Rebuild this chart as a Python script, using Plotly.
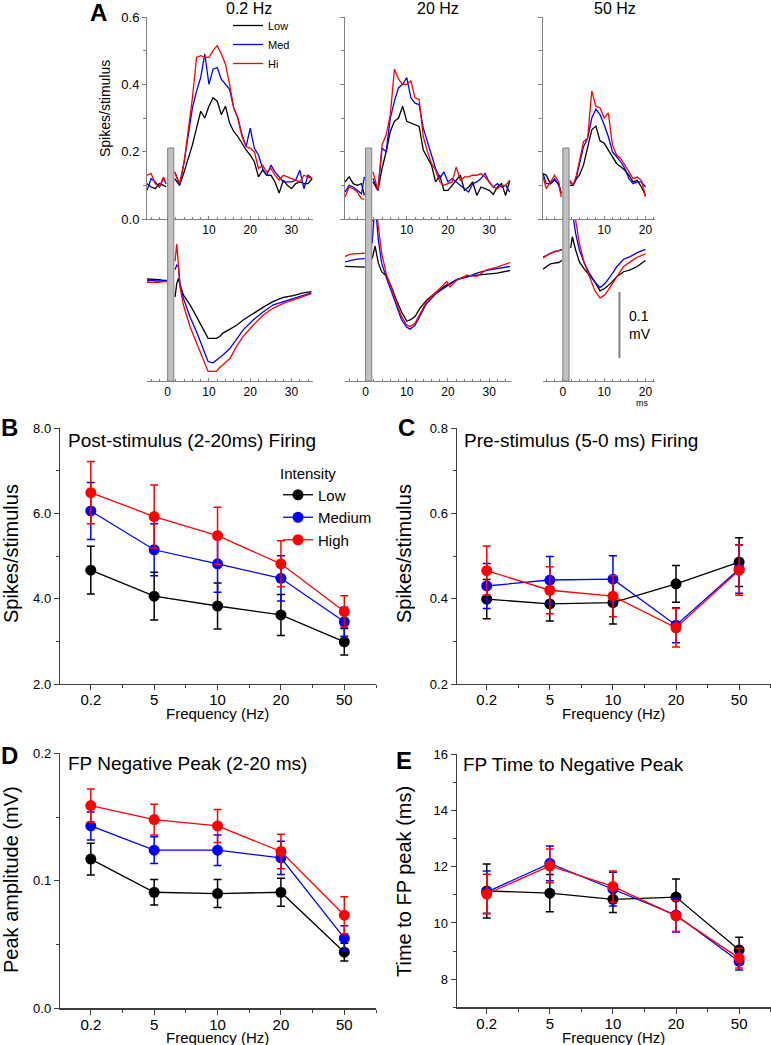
import plotly.graph_objects as go

W, H = 771, 1045


def px(x):
    return x / W


def py(y):
    return 1 - y / H


BLACK, BLUE, RED = "#000000", "#0000ff", "#ff0000"
FONT = "Liberation Sans, Arial, sans-serif"

# ---------------- Panel A: spike histograms (spikes/stimulus) ----------------
t_pre_02 = [-5, -4, -3, -2, -1, -0.4]
t_post_02 = [1.7, 2.9, 4, 5, 6, 7, 8, 9, 10, 11, 12, 13, 14, 15, 16, 17, 18, 19, 20,
             21, 22, 23, 24, 25, 26, 27, 28, 29, 30, 31, 32, 33, 34, 35]
sp02_low_pre = [0.105, 0.095, 0.09, 0.105, 0.10, 0.095]
sp02_med_pre = [0.085, 0.12, 0.11, 0.095, 0.12, 0.105]
sp02_hi_pre = [0.13, 0.135, 0.105, 0.095, 0.125, 0.105]
sp02_low_post = [0.12, 0.10, 0.14, 0.18, 0.22, 0.27, 0.32, 0.30, 0.335, 0.36, 0.35, 0.31, 0.335,
                 0.285, 0.26, 0.245, 0.225, 0.205, 0.19, 0.17, 0.125, 0.145, 0.13, 0.13, 0.11,
                 0.077, 0.115, 0.10, 0.09, 0.105, 0.11, 0.105, 0.105, 0.12]
sp02_med_post = [0.14, 0.10, 0.17, 0.25, 0.33, 0.38, 0.42, 0.49, 0.40, 0.445, 0.45, 0.415, 0.40,
                 0.385, 0.33, 0.30, 0.25, 0.215, 0.27, 0.21, 0.19, 0.15, 0.13, 0.16, 0.14,
                 0.125, 0.11, 0.11, 0.11, 0.115, 0.145, 0.09, 0.13, 0.12]
sp02_hi_post = [0.14, 0.105, 0.17, 0.26, 0.36, 0.48, 0.485, 0.48, 0.48, 0.50, 0.515, 0.49, 0.46,
                0.40, 0.33, 0.30, 0.245, 0.215, 0.21, 0.20, 0.15, 0.16, 0.14, 0.15, 0.13,
                0.115, 0.13, 0.125, 0.12, 0.115, 0.11, 0.13, 0.125, 0.12]

t_pre_20 = [-5, -4, -3, -2, -1, -0.3]
t_post_20 = [1.8, 3, 4, 5, 6, 7, 8, 9, 10, 11, 12, 13, 14, 15, 16, 17, 18, 19, 20,
             21, 22, 23, 24, 25, 26, 27, 28, 29, 30, 31, 32, 33, 34, 35]
sp20_low_pre = [0.11, 0.125, 0.105, 0.10, 0.105, 0.07]
sp20_med_pre = [0.08, 0.10, 0.095, 0.085, 0.075, 0.125]
sp20_hi_pre = [0.065, 0.095, 0.09, 0.08, 0.06, 0.058]
sp20_low_post = [0.11, 0.085, 0.15, 0.20, 0.26, 0.29, 0.30, 0.335, 0.29, 0.285, 0.28, 0.275, 0.205,
                 0.18, 0.16, 0.11, 0.13, 0.085, 0.085, 0.10, 0.115, 0.13, 0.085, 0.095, 0.11,
                 0.07, 0.095, 0.09, 0.085, 0.073, 0.095, 0.105, 0.07, 0.115]
sp20_med_post = [0.12, 0.085, 0.21, 0.20, 0.30, 0.35, 0.39, 0.40, 0.42, 0.36, 0.344, 0.34, 0.27,
                 0.23, 0.19, 0.15, 0.12, 0.14, 0.11, 0.12, 0.11, 0.10, 0.09, 0.08, 0.105,
                 0.11, 0.12, 0.135, 0.11, 0.095, 0.105, 0.095, 0.10, 0.08]
sp20_hi_post = [0.14, 0.085, 0.22, 0.25, 0.31, 0.445, 0.415, 0.40, 0.40, 0.41, 0.36, 0.355, 0.245,
                0.20, 0.165, 0.145, 0.11, 0.10, 0.105, 0.11, 0.155, 0.115, 0.125, 0.125, 0.13,
                0.13, 0.135, 0.125, 0.11, 0.095, 0.09, 0.10, 0.10, 0.115]

t_pre_50 = [-4.8, -4, -3, -2, -1, -0.4]
t_post_50 = [1.7, 2.5, 3.3, 4, 5, 6, 7, 8, 9, 10, 11, 12, 13, 14, 15, 16, 17, 18, 19, 20]
sp50_low_pre = [0.135, 0.13, 0.105, 0.115, 0.105, 0.077]
sp50_med_pre = [0.135, 0.105, 0.105, 0.12, 0.10, 0.075]
sp50_hi_pre = [0.125, 0.09, 0.11, 0.13, 0.11, 0.065]
sp50_low_post = [0.10, 0.10, 0.12, 0.13, 0.16, 0.215, 0.265, 0.276, 0.232, 0.225, 0.205, 0.185,
                 0.165, 0.155, 0.145, 0.13, 0.11, 0.115, 0.095, 0.07]
sp50_med_post = [0.11, 0.10, 0.125, 0.165, 0.215, 0.24, 0.30, 0.326, 0.31, 0.28, 0.245, 0.20,
                 0.185, 0.17, 0.15, 0.12, 0.105, 0.11, 0.11, 0.095]
sp50_hi_post = [0.115, 0.10, 0.13, 0.17, 0.23, 0.24, 0.38, 0.335, 0.33, 0.30, 0.315, 0.22,
                0.19, 0.18, 0.16, 0.14, 0.12, 0.125, 0.115, 0.066]

# ---------------- Panel A: field potentials (mV) ----------------
t_fp_pre = [-5, -4, -3, -2, -1, -0.2]
t_fp_pre_50 = [-4.8, -4, -3, -2, -1, -0.2]

t_fp_post_02 = [1.8, 2.2, 2.6, 3.0, 3.8, 5.4, 7.0, 8.6, 9.8, 11.0, 11.8, 12.6, 13.4, 15.1,
                16.7, 18.3, 20.7, 23.1, 25.6, 28.0, 30.4, 32.8, 34.8]
fp02_low_pre = [0.003, 0.003, 0.002, 0.002, 0.001, 0.001]
fp02_med_pre = [0.0, 0.001, 0.0, 0.0, 0.0, 0.0]
fp02_hi_pre = [-0.002, -0.002, -0.003, -0.002, -0.001, -0.001]
fp02_low_post = [-0.024, -0.004, 0.004, -0.006, -0.021, -0.036, -0.054, -0.074, -0.087, -0.087,
                 -0.087, -0.084, -0.079, -0.073, -0.067, -0.059, -0.049, -0.040, -0.031,
                 -0.025, -0.022, -0.018, -0.016]
fp02_med_post = [0.017, 0.024, 0.022, -0.004, -0.026, -0.054, -0.077, -0.102, -0.122, -0.124,
                 -0.120, -0.115, -0.112, -0.102, -0.087, -0.074, -0.059, -0.047, -0.036,
                 -0.031, -0.026, -0.021, -0.018]
fp02_hi_post = [0.030, 0.056, 0.025, -0.009, -0.036, -0.069, -0.094, -0.120, -0.137, -0.137,
                -0.137, -0.131, -0.127, -0.117, -0.099, -0.084, -0.067, -0.052, -0.041,
                -0.034, -0.029, -0.023, -0.019]

t_fp_post_20 = [1.6, 2.3, 3.1, 3.9, 5.1, 6.3, 7.5, 8.75, 10.0, 10.8, 12.0, 13.2, 14.8, 17.3,
                19.7, 20.5, 22.1, 24.6, 27.0, 29.4, 31.9, 35.1]
fp20_low_pre = [0.022, 0.022, 0.022, 0.022, 0.021, 0.021]
fp20_med_pre = [0.029, 0.031, 0.032, 0.033, 0.034, 0.034]
fp20_hi_pre = [0.037, 0.040, 0.041, 0.041, 0.042, 0.042]
fp20_low_post = [0.034, 0.053, 0.027, 0.014, 0.007, -0.009, -0.029, -0.047, -0.061, -0.059,
                 -0.054, -0.041, -0.029, -0.016, -0.006, -0.004, 0.002, 0.007, 0.009, 0.011,
                 0.012, 0.016]
fp20_med_post = [0.057, 0.12, 0.062, 0.027, 0.004, -0.016, -0.039, -0.059, -0.070, -0.073,
                 -0.067, -0.052, -0.034, -0.018, -0.008, -0.005, 0.002, 0.006, 0.012, 0.016,
                 0.019, 0.022]
fp20_hi_post = [0.09, 0.13, 0.082, 0.042, 0.009, -0.011, -0.034, -0.054, -0.067, -0.069,
                -0.064, -0.049, -0.031, -0.016, -0.001, -0.009, 0.001, 0.009, 0.007, 0.017,
                0.021, 0.028]

t_fp_post_50 = [1.9, 2.3, 3.1, 4.0, 5.2, 6.4, 7.7, 9.0, 10.2, 11.5, 13.1, 14.7, 16.3, 18.0, 20.0]
fp50_low_pre = [0.018, 0.022, 0.026, 0.027, 0.028, 0.031]
fp50_med_pre = [0.036, 0.039, 0.042, 0.045, 0.046, 0.048]
fp50_hi_pre = [0.035, 0.038, 0.042, 0.044, 0.046, 0.047]
fp50_low_post = [0.050, 0.067, 0.047, 0.029, 0.018, 0.009, -0.001, -0.015, -0.011, -0.004,
                 0.007, 0.014, 0.017, 0.022, 0.031]
fp50_med_post = [0.123, 0.103, 0.072, 0.047, 0.027, 0.012, -0.001, -0.010, -0.004, 0.007,
                 0.022, 0.033, 0.037, 0.043, 0.048]
fp50_hi_post = [0.133, 0.133, 0.092, 0.057, 0.027, 0.007, -0.014, -0.026, -0.021, -0.009,
                0.007, 0.022, 0.029, 0.036, 0.041]

# ---------------- Panels B-E: summary data ----------------
freq_labels = ["0.2", "5", "10", "20", "50"]
intensity_names = ["Low", "Medium", "High"]

post_low = [4.67, 4.06, 3.83, 3.62, 2.99]
post_low_err = [0.56, 0.56, 0.54, 0.48, 0.31]
post_med = [6.06, 5.15, 4.82, 4.48, 3.46]
post_med_err = [0.67, 0.61, 0.67, 0.53, 0.34]
post_high = [6.49, 5.93, 5.48, 4.82, 3.70]
post_high_err = [0.73, 0.74, 0.67, 0.54, 0.37]

pre_low = [0.399, 0.388, 0.391, 0.435, 0.486]
pre_low_err = [0.046, 0.040, 0.050, 0.043, 0.057]
pre_med = [0.430, 0.444, 0.446, 0.338, 0.470]
pre_med_err = [0.053, 0.055, 0.055, 0.041, 0.057]
pre_high = [0.466, 0.420, 0.406, 0.332, 0.467]
pre_high_err = [0.058, 0.055, 0.048, 0.045, 0.059]

amp_low = [0.117, 0.091, 0.090, 0.091, 0.044]
amp_low_err = [0.0125, 0.010, 0.011, 0.011, 0.007]
amp_med = [0.143, 0.124, 0.124, 0.118, 0.055]
amp_med_err = [0.011, 0.0105, 0.012, 0.013, 0.0098]
amp_high = [0.159, 0.148, 0.143, 0.123, 0.073]
amp_high_err = [0.013, 0.012, 0.013, 0.0136, 0.0145]

time_low = [11.14, 11.06, 10.84, 10.92, 9.04]
time_low_err = [0.96, 0.66, 0.47, 0.64, 0.45]
time_med = [11.10, 12.12, 11.20, 10.28, 8.63]
time_med_err = [0.75, 0.62, 0.60, 0.60, 0.30]
time_high = [11.03, 12.03, 11.30, 10.25, 8.75]
time_high_err = [0.70, 0.60, 0.55, 0.55, 0.35]

# ====================================================================
fig = go.Figure()


def join(pre, post):
    return list(pre) + [None] + list(post)


spike_panels = [
    ("x", "y", t_pre_02, t_post_02,
     [(sp02_low_pre, sp02_low_post), (sp02_med_pre, sp02_med_post), (sp02_hi_pre, sp02_hi_post)]),
    ("x2", "y2", t_pre_20, t_post_20,
     [(sp20_low_pre, sp20_low_post), (sp20_med_pre, sp20_med_post), (sp20_hi_pre, sp20_hi_post)]),
    ("x3", "y3", t_pre_50, t_post_50,
     [(sp50_low_pre, sp50_low_post), (sp50_med_pre, sp50_med_post), (sp50_hi_pre, sp50_hi_post)]),
]
fp_panels = [
    ("x4", "y4", t_fp_pre, t_fp_post_02,
     [(fp02_low_pre, fp02_low_post), (fp02_med_pre, fp02_med_post), (fp02_hi_pre, fp02_hi_post)]),
    ("x5", "y5", t_fp_pre, t_fp_post_20,
     [(fp20_low_pre, fp20_low_post), (fp20_med_pre, fp20_med_post), (fp20_hi_pre, fp20_hi_post)]),
    ("x6", "y6", t_fp_pre_50, t_fp_post_50,
     [(fp50_low_pre, fp50_low_post), (fp50_med_pre, fp50_med_post), (fp50_hi_pre, fp50_hi_post)]),
]
short_names = ["Low", "Med", "Hi"]
colors = [BLACK, BLUE, RED]

for pi, (xa, ya, tpre, tpost, series) in enumerate(spike_panels + fp_panels):
    for si, (pre, post) in enumerate(series):
        fig.add_trace(go.Scatter(
            x=join(tpre, tpost), y=join(pre, post), mode="lines",
            line=dict(color=colors[si], width=1.3),
            xaxis=xa, yaxis=ya, name=short_names[si],
            showlegend=(pi == 0), legend="legend2", hoverinfo="skip"))

summary = [
    ("x7", "y7", [(post_low, post_low_err), (post_med, post_med_err), (post_high, post_high_err)]),
    ("x8", "y8", [(pre_low, pre_low_err), (pre_med, pre_med_err), (pre_high, pre_high_err)]),
    ("x9", "y9", [(amp_low, amp_low_err), (amp_med, amp_med_err), (amp_high, amp_high_err)]),
    ("x10", "y10", [(time_low, time_low_err), (time_med, time_med_err), (time_high, time_high_err)]),
]
xidx = list(range(len(freq_labels)))
for pi, (xa, ya, series) in enumerate(summary):
    for si, (vals, errs) in enumerate(series):
        fig.add_trace(go.Scatter(
            x=xidx, y=vals, mode="lines+markers",
            line=dict(color=colors[si], width=1.3),
            marker=dict(color=colors[si], size=11),
            error_y=dict(type="data", array=errs, visible=True, color=colors[si],
                         thickness=1.5, width=4),
            xaxis=xa, yaxis=ya, name=intensity_names[si],
            showlegend=(pi == 0), legend="legend"))

# ---------------- axes ----------------
A_LINE = "#808080"
B_LINE = "#404040"
spike_dom_y = [py(219), py(17)]
fp_dom_y = [py(381), py(220)]
x_doms = [[px(147), px(313)], [px(345), px(511)], [px(543), px(655)]]
x_ranges = [[-5.0, 35.2], [-5.0, 35.3], [-4.8, 22.3]]
top_ticks = [[10, 20, 30], [10, 20, 30], [10, 20]]
bot_ticks = [[0, 10, 20, 30], [0, 10, 20, 30], [0, 10, 20]]

layout = dict(
    width=W, height=H, autosize=False,
    margin=dict(l=0, r=0, t=0, b=0, pad=0, autoexpand=False),
    paper_bgcolor="white", plot_bgcolor="rgba(0,0,0,0)",
    font=dict(family=FONT, color="black"),
    hovermode=False,
)

for i in range(3):
    n = i + 1
    xs = "" if n == 1 else str(n)
    layout["xaxis" + xs] = dict(
        domain=x_doms[i], range=x_ranges[i], anchor="y" + xs,
        showline=True, linecolor=A_LINE, linewidth=1, showgrid=False, zeroline=False,
        tickmode="array", tickvals=top_ticks[i], ticks="inside", ticklen=3,
        tickcolor=A_LINE, tickfont=dict(size=12), automargin=False,
        minor=dict(dtick=2, tick0=0, ticks="inside", ticklen=2, tickcolor=A_LINE))
    layout["yaxis" + xs] = dict(
        domain=spike_dom_y, range=[0, 0.6], anchor="x" + xs,
        showline=True, linecolor=A_LINE, linewidth=1, showgrid=False, zeroline=False,
        tickmode="array", tickvals=[0, 0.2, 0.4, 0.6], tickformat=".1f",
        showticklabels=(i == 0), ticks="outside", ticklen=4, tickcolor=A_LINE,
        tickfont=dict(size=13), automargin=False,
        minor=dict(dtick=0.1, tick0=0, ticks="outside", ticklen=3, tickcolor=A_LINE))
    m = n + 3
    layout["xaxis%d" % m] = dict(
        domain=x_doms[i], range=x_ranges[i], anchor="y%d" % m,
        showline=True, linecolor=A_LINE, linewidth=1, showgrid=False, zeroline=False,
        tickmode="array", tickvals=bot_ticks[i], ticks="inside", ticklen=3,
        tickcolor=A_LINE, tickfont=dict(size=12), automargin=False,
        minor=dict(dtick=2, tick0=0, ticks="inside", ticklen=2, tickcolor=A_LINE))
    layout["yaxis%d" % m] = dict(
        domain=fp_dom_y, range=[-0.1515, 0.0924], anchor="x%d" % m, visible=False)

left_dom = [px(60), px(376)]
right_dom = [px(456.7), 1.0]
rows = [
    (7, left_dom, [-0.486, 4.5], [py(684), py(428.3)], [2, 8], [2, 4, 6, 8], ".1f", 1),
    (8, right_dom, [-0.476, 4.505], [py(684), py(428.3)], [0.2, 0.8], [0.2, 0.4, 0.6, 0.8], ".1f", 0.1),
    (9, left_dom, [-0.486, 4.5], [py(1008.3), py(753.3)], [0, 0.2], [0, 0.1, 0.2], ".1f", 0.05),
    (10, right_dom, [-0.476, 4.505], [py(1007.3), py(754.3)], [7, 16], [8, 10, 12, 14, 16], "d", 1),
]
for (k, xd, xr, yd, yr, yt, yfmt, ymin) in rows:
    layout["xaxis%d" % k] = dict(
        domain=xd, range=xr, anchor="y%d" % k,
        showline=True, linecolor=B_LINE, linewidth=1.2, showgrid=False, zeroline=False,
        tickmode="array", tickvals=xidx, ticktext=freq_labels,
        ticks="outside", ticklen=5, tickcolor=B_LINE, tickfont=dict(size=15),
        ticklabelstandoff=-3, automargin=False,
        minor=dict(dtick=0.5, tick0=0, ticks="outside", ticklen=3, tickcolor=B_LINE))
    layout["yaxis%d" % k] = dict(
        domain=yd, range=yr, anchor="x%d" % k,
        showline=True, linecolor=B_LINE, linewidth=1.2, showgrid=False, zeroline=False,
        tickmode="array", tickvals=yt, tickformat=yfmt,
        ticks="outside", ticklen=5, tickcolor=B_LINE, tickfont=dict(size=13),
        automargin=False,
        minor=dict(dtick=ymin, tick0=0, ticks="outside", ticklen=3, tickcolor=B_LINE))

layout["legend"] = dict(
    x=px(278), y=py(459), xanchor="left", yanchor="top",
    title=dict(text="Intensity", font=dict(size=15)),
    font=dict(size=15), bgcolor="rgba(0,0,0,0)", tracegroupgap=0, itemwidth=30)
layout["legend2"] = dict(
    x=px(228), y=py(11), xanchor="left", yanchor="top",
    font=dict(size=11), bgcolor="rgba(0,0,0,0)", tracegroupgap=0, itemwidth=30)

fig.update_layout(**layout)

# ---------------- shapes: stimulus bars and scale bar ----------------
shapes = []
for xa in ["x", "x2", "x3"]:
    shapes.append(dict(type="rect", xref=xa, yref="paper", x0=0, x1=1.5,
                       y0=py(381), y1=py(148), fillcolor="#c0c0c0",
                       line=dict(color="#808080", width=1), layer="above"))
shapes.append(dict(type="line", xref="x6", yref="y6", x0=13.7, x1=13.7,
                   y0=-0.0167, y1=-0.1167, line=dict(color="#808080", width=2)))
fig.update_layout(shapes=shapes)

# ---------------- text ----------------
ann = []


def text(x, y, s, size, xanchor="center", yanchor="middle", angle=0, bold=False,
         xref="paper", yref="paper", align="center"):
    ann.append(dict(x=x, y=y, xref=xref, yref=yref, text=("<b>%s</b>" % s) if bold else s,
                    showarrow=False, xanchor=xanchor, yanchor=yanchor, textangle=angle,
                    align=align, font=dict(size=size, family=FONT, color="black")))


text(px(99), py(13), "A", 24, bold=True)
text(px(9), py(428), "B", 24, bold=True)
text(px(406), py(428), "C", 24, bold=True)
text(px(9), py(755), "D", 24, bold=True)
text(px(404), py(760), "E", 24, bold=True)

text(px(249), py(9), "0.2 Hz", 16)
text(px(438), py(9), "20 Hz", 16)
text(px(615), py(9), "50 Hz", 16)
text(px(105), py(108), "Spikes/stimulus", 14, angle=-90)
text(15.6, -0.067, "0.1<br>mV", 14, xanchor="left", xref="x6", yref="y6", align="left")
text(px(642), py(403), "ms", 9)

text(px(66), py(440), "Post-stimulus (2-20ms) Firing", 19, xanchor="left")
text(px(461.7), py(440), "Pre-stimulus (5-0 ms) Firing", 19, xanchor="left")
text(px(66), py(763), "FP Negative Peak (2-20 ms)", 19, xanchor="left")
text(px(461), py(764), "FP Time to Negative Peak", 19, xanchor="left")

text(px(11), py(554), "Spikes/stimulus", 20, angle=-90)
text(px(404), py(554), "Spikes/stimulus", 20, angle=-90)
text(px(11), py(880), "Peak amplitude (mV)", 20, angle=-90)
text(px(404), py(882), "Time to FP peak (ms)", 20, angle=-90)

text(px(217), py(713), "Frequency (Hz)", 15)
text(px(613), py(713), "Frequency (Hz)", 15)
text(px(217), py(1037), "Frequency (Hz)", 15)
text(px(613), py(1037), "Frequency (Hz)", 15)

fig.update_layout(annotations=ann)

fig.write_html(
    "out.html",
    config={"displayModeBar": False, "staticPlot": True},
    post_script="document.body.style.margin='0px';document.body.style.padding='0px';"
                "document.body.style.overflow='hidden';")
